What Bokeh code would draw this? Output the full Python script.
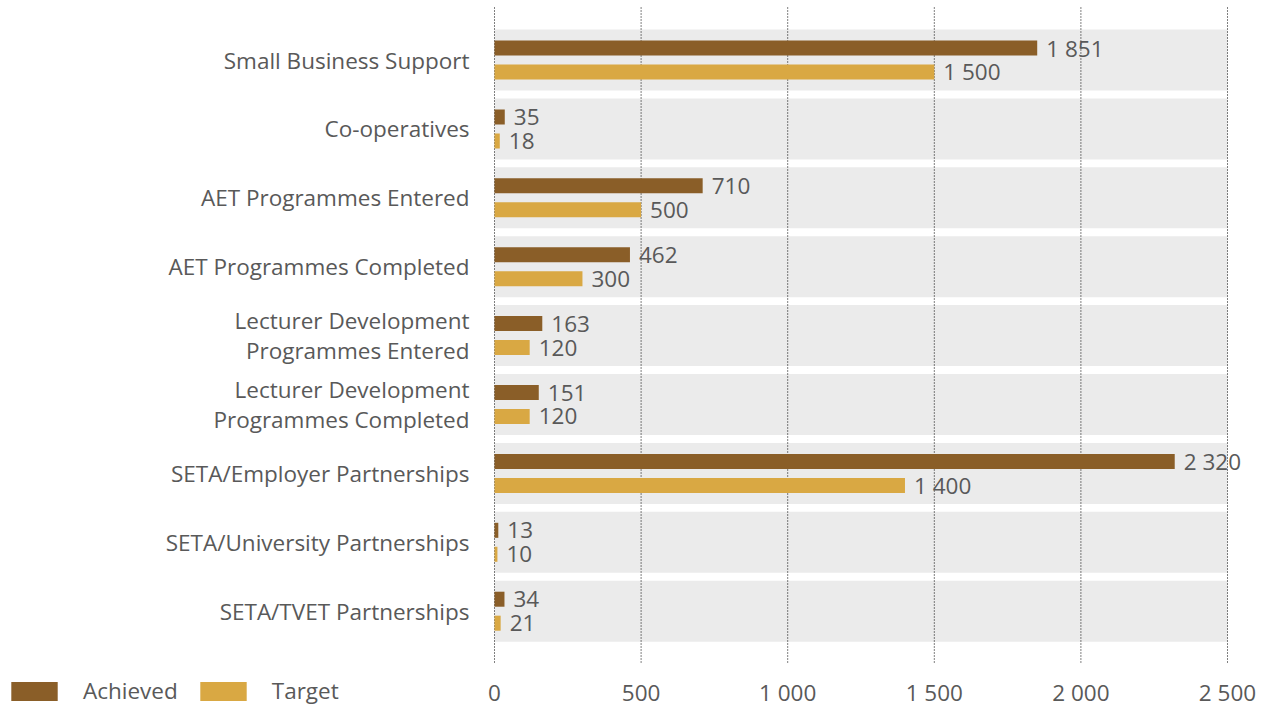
from bokeh.plotting import figure
from bokeh.models import ColumnDataSource, FixedTicker, Legend, LegendItem, Range1d
from bokeh.embed import file_html
from bokeh.resources import INLINE
from bokeh.core.properties import value

categories = [
    "Small Business Support",
    "Co-operatives",
    "AET Programmes Entered",
    "AET Programmes Completed",
    "Lecturer Development\nProgrammes Entered",
    "Lecturer Development\nProgrammes Completed",
    "SETA/Employer Partnerships",
    "SETA/University Partnerships",
    "SETA/TVET Partnerships",
]
achieved = [1851, 35, 710, 462, 163, 151, 2320, 13, 34]
target = [1500, 18, 500, 300, 120, 120, 1400, 10, 21]
series_names = ["Achieved", "Target"]
x_ticks = [0, 500, 1000, 1500, 2000, 2500]
x_tick_labels = ["0", "500", "1 000", "1 500", "2 000", "2 500"]

BROWN = "#8A5E28"
GOLD = "#D9A843"
BAND = "#EBEBEB"
TEXT = "#595959"
FONT = "Open Sans"
FS = "22.5px"

W, H = 1260, 712
n = len(categories)
pos = [n - 1 - i for i in range(n)]
off = 0.174
bh = 0.218

# layout geometry (pixels) -> ranges
frame_left_px = 494           # where x = 0 sits
px_per_unit = 733 / x_ticks[-1]
band_pitch_px = 68.9
first_center_px = 59.5
grid_top_px, grid_bottom_px = 5, 662

x_start = -frame_left_px / px_per_unit
x_end = (W - frame_left_px) / px_per_unit
y_top = (n - 1) + first_center_px / band_pitch_px
y_bot = (n - 1) - (H - first_center_px) / band_pitch_px
grid_hi = (n - 1) + (first_center_px - grid_top_px) / band_pitch_px
grid_lo = (n - 1) - (grid_bottom_px - first_center_px) / band_pitch_px


def fmt(v):
    return f"{v:,}".replace(",", " ")


src = ColumnDataSource(dict(
    pos=pos,
    cat=categories,
    achieved=achieved,
    target=target,
    ya=[p_ + off for p_ in pos],
    yt=[p_ - off for p_ in pos],
    la=[fmt(v) for v in achieved],
    lt=[fmt(v) for v in target],
    band_l=[x_ticks[0]] * n,
    band_r=[x_ticks[-1]] * n,
))
grid_src = ColumnDataSource(dict(
    x=x_ticks,
    y0=[grid_lo] * len(x_ticks),
    y1=[grid_hi] * len(x_ticks),
))

p = figure(width=W, height=H, output_backend="svg", toolbar_location=None,
           x_range=Range1d(x_start, x_end), y_range=Range1d(y_bot, y_top),
           min_border_left=0, min_border_right=0, min_border_top=0,
           min_border_bottom=0, title=None)
p.outline_line_color = None
p.background_fill_color = "white"
p.grid.visible = False

# category bands
p.hbar(y="pos", left="band_l", right="band_r", height=0.885, source=src,
       fill_color=BAND, line_color=None, level="image")

# dotted vertical gridlines at the tick values
p.segment(x0="x", y0="y0", x1="x", y1="y1", source=grid_src,
          line_color="#000000", line_dash="1 2", line_width=1, level="underlay")

r_a = p.hbar(y="ya", left=0, right="achieved", height=bh, source=src,
             fill_color=BROWN, line_color=None)
r_t = p.hbar(y="yt", left=0, right="target", height=bh, source=src,
             fill_color=GOLD, line_color=None)

p.text(x="achieved", y="ya", text="la", source=src, x_offset=9,
       text_baseline="middle", text_align="left", text_color=TEXT,
       text_font=value(FONT), text_font_size=FS)
p.text(x="target", y="yt", text="lt", source=src, x_offset=9,
       text_baseline="middle", text_align="left", text_color=TEXT,
       text_font=value(FONT), text_font_size=FS)

# axes (pinned at x = 0 and at the bottom of the grid)
p.yaxis.fixed_location = 0
p.yaxis.ticker = FixedTicker(ticks=pos)
p.yaxis.major_label_overrides = {pp: c for pp, c in zip(pos, categories)}
p.yaxis.axis_line_color = None
p.yaxis.major_tick_line_color = None
p.yaxis.minor_tick_line_color = None
p.yaxis.major_tick_out = 0
p.yaxis.major_tick_in = 0
p.yaxis.major_label_standoff = 25
p.yaxis.major_label_text_font = FONT
p.yaxis.major_label_text_font_size = FS
p.yaxis.major_label_text_color = TEXT
p.yaxis.major_label_text_line_height = 0.97

p.xaxis.fixed_location = grid_lo
p.xaxis.ticker = FixedTicker(ticks=x_ticks)
p.xaxis.major_label_overrides = {t: l for t, l in zip(x_ticks, x_tick_labels)}
p.xaxis.axis_line_color = None
p.xaxis.major_tick_line_color = None
p.xaxis.minor_tick_line_color = None
p.xaxis.major_tick_out = 0
p.xaxis.major_tick_in = 0
p.xaxis.major_label_standoff = 14
p.xaxis.major_label_text_font = FONT
p.xaxis.major_label_text_font_size = FS
p.xaxis.major_label_text_color = TEXT

legend = Legend(items=[LegendItem(label=series_names[0], renderers=[r_a]),
                       LegendItem(label=series_names[1], renderers=[r_t])],
                orientation="horizontal", location=(5, 6),
                glyph_width=58, glyph_height=24, label_standoff=20, spacing=16,
                padding=0, margin=0, border_line_color=None,
                background_fill_alpha=0, label_text_font=FONT,
                label_text_font_size=FS, label_text_color=TEXT,
                label_height=24)
p.add_layout(legend, "center")

open("out.html", "w").write(file_html(p, INLINE))
